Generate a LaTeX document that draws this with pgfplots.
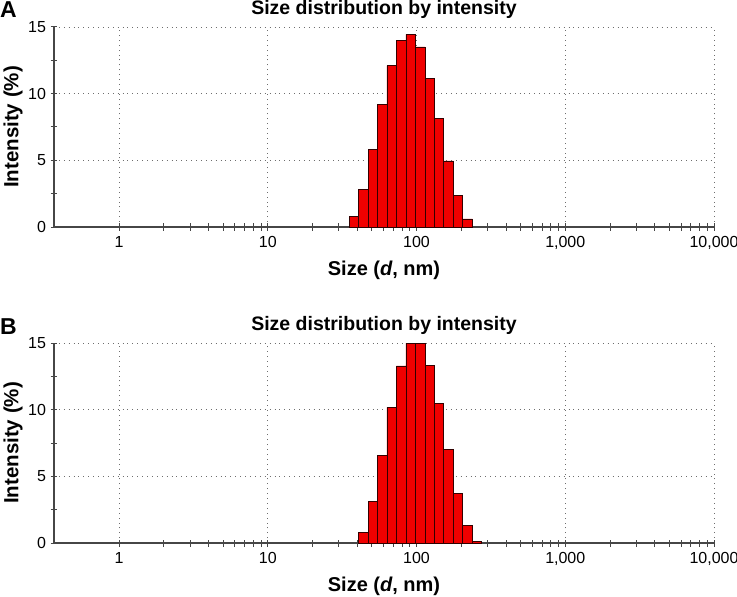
\documentclass[border=0pt]{standalone}
\usepackage{pgfplots}
\pgfplotsset{compat=1.18}
\usepackage{fontspec}
\setmainfont{Liberation Sans}
\definecolor{barred}{RGB}{240,0,0}
\definecolor{baredge}{RGB}{50,0,0}
\definecolor{spine}{RGB}{70,70,70}
\definecolor{gridc}{RGB}{110,110,110}
\begin{document}
\begin{tikzpicture}
\begin{axis}[
  at={(0pt,0pt)}, anchor=south west,
  scale only axis, width=660pt, height=200pt,
  xmode=log, xmin=0.365, xmax=10000, ymin=0, ymax=15,
  axis x line*=bottom, axis y line*=left,
  axis line style={spine, line width=1.2pt},
  xtick={1,10,100,1000,10000}, xticklabels={1,10,100,{1,000},{10,000}},
  minor xtick={2,3,4,5,6,7,8,9,20,30,40,50,60,70,80,90,200,300,400,500,600,700,800,900,2000,3000,4000,5000,6000,7000,8000,9000},
  ytick={0,5,10,15}, yticklabels={0,5,10,15}, minor ytick={2.5,7.5,12.5},
  tick align=center, major tick length=7pt, minor tick length=7pt,
  tick style={spine, line width=1pt},
  xmajorgrids, ymajorgrids,
  major grid style={gridc, line width=0.9pt, dash pattern=on 0.9pt off 4pt},
  tick label style={font=\fontsize{16}{19}\selectfont},
  xticklabel style={yshift=-2pt}, yticklabel style={xshift=-1pt},
  title={Size distribution by intensity},
  title style={font=\bfseries\fontsize{19.5}{23}\selectfont, at={(0.5,1)}, anchor=south, yshift=-1pt},
  xlabel={Size (\textit{d}, nm)},
  xlabel style={font=\bfseries\fontsize{20}{24}\selectfont, at={(axis description cs:0.5,0)}, anchor=north, yshift=-30pt},
  ylabel={Intensity (\%)},
  ylabel style={font=\bfseries\fontsize{20.5}{24}\selectfont, at={(axis description cs:-0.042,0.5)}, anchor=south},
]
\addplot[ybar, bar width=9.48pt, bar shift=0pt, fill=barred, draw=baredge, line width=0.7pt] coordinates {
(37.84,0.8) (43.82,2.8) (50.75,5.8) (58.77,9.2) (68.06,12.1) (78.82,14.0) (91.28,14.45)
(105.7,13.5) (122.4,11.15) (141.8,8.15) (164.2,4.95) (190.1,2.35) (220.2,0.6)};
\end{axis}
\begin{axis}[
  at={(0pt,-316pt)}, anchor=south west,
  scale only axis, width=660pt, height=200pt,
  xmode=log, xmin=0.365, xmax=10000, ymin=0, ymax=15,
  axis x line*=bottom, axis y line*=left,
  axis line style={spine, line width=1.2pt},
  xtick={1,10,100,1000,10000}, xticklabels={1,10,100,{1,000},{10,000}},
  minor xtick={2,3,4,5,6,7,8,9,20,30,40,50,60,70,80,90,200,300,400,500,600,700,800,900,2000,3000,4000,5000,6000,7000,8000,9000},
  ytick={0,5,10,15}, yticklabels={0,5,10,15}, minor ytick={2.5,7.5,12.5},
  tick align=center, major tick length=7pt, minor tick length=7pt,
  tick style={spine, line width=1pt},
  xmajorgrids, ymajorgrids,
  major grid style={gridc, line width=0.9pt, dash pattern=on 0.9pt off 4pt},
  tick label style={font=\fontsize{16}{19}\selectfont},
  xticklabel style={yshift=-2pt}, yticklabel style={xshift=-1pt},
  title={Size distribution by intensity},
  title style={font=\bfseries\fontsize{19.5}{23}\selectfont, at={(0.5,1)}, anchor=south, yshift=-1pt},
  xlabel={Size (\textit{d}, nm)},
  xlabel style={font=\bfseries\fontsize{20}{24}\selectfont, at={(axis description cs:0.5,0)}, anchor=north, yshift=-30pt},
  ylabel={Intensity (\%)},
  ylabel style={font=\bfseries\fontsize{20.5}{24}\selectfont, at={(axis description cs:-0.042,0.5)}, anchor=south},
]
\addplot[ybar, bar width=9.48pt, bar shift=0pt, fill=barred, draw=baredge, line width=0.7pt] coordinates {
(43.82,0.78) (50.75,3.15) (58.77,6.58) (68.06,10.18) (78.82,13.28) (91.28,15.0) (105.7,15.0)
(122.4,13.35) (141.8,10.45) (164.2,7.05) (190.1,3.72) (220.2,1.3) (254.3,0.15)};
\end{axis}
\node[anchor=north west, inner sep=0pt, font=\bfseries\fontsize{23}{27}\selectfont] at (-54pt,226pt) {A};
\node[anchor=north west, inner sep=0pt, font=\bfseries\fontsize{23}{27}\selectfont] at (-54pt,-91pt) {B};
\pgfresetboundingbox
\useasboundingbox (-54pt,-370pt) rectangle (683pt,227pt);
\end{tikzpicture}
\end{document}
